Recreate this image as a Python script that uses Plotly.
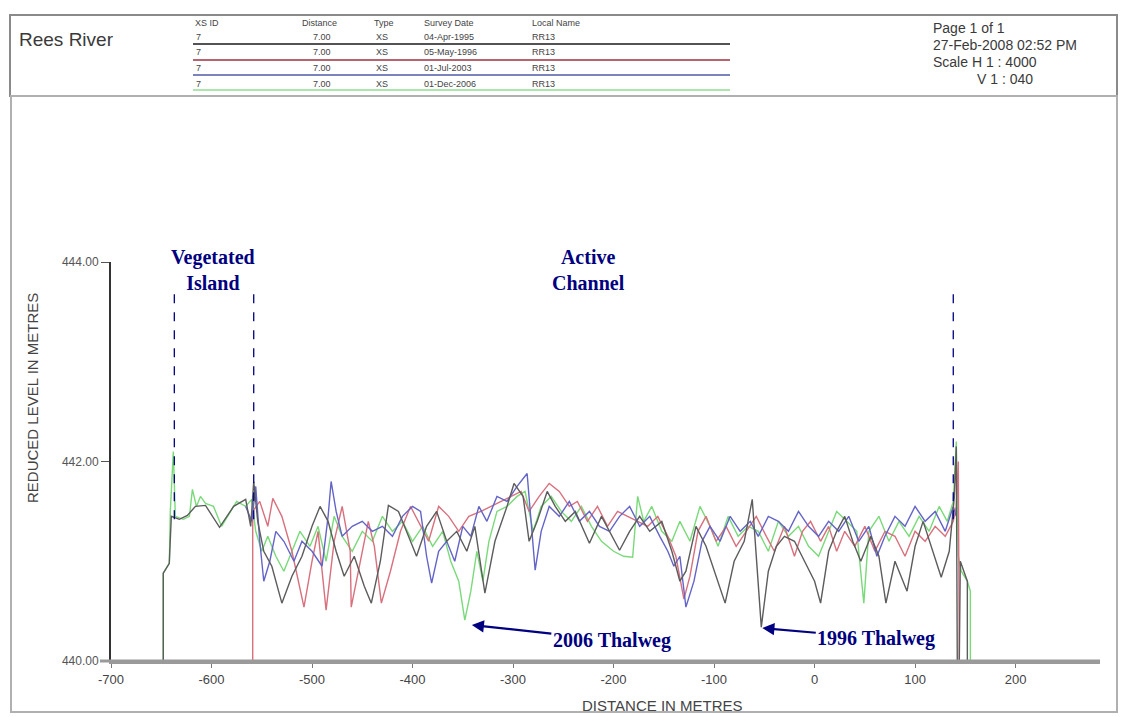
import plotly.graph_objects as go

# ---------------- data ----------------
survey_dates = ["04-Apr-1995", "05-May-1996", "01-Jul-2003", "01-Dec-2006"]
xs_ids = ["7", "7", "7", "7"]
distances = ["7.00", "7.00", "7.00", "7.00"]
xs_types = ["XS", "XS", "XS", "XS"]
local_names = ["RR13", "RR13", "RR13", "RR13"]

x_1995 = [-648, -648, -642, -640, -632, -624, -616, -606, -592, -578, -566, -561, -558, -554, -548, -540,
          -530, -520, -510, -500, -492, -484, -476, -468, -458, -448, -441, -432, -424, -414, -404, -396,
          -386, -376, -366, -356, -346, -338, -328, -318, -306, -299, -290, -284, -276, -266, -258, -248,
          -238, -224, -212, -204, -194, -184, -174, -164, -152, -142, -134, -128, -118, -108, -98, -89,
          -80, -70, -62, -58, -53, -46, -38, -30, -20, -10, 0, 6, 14, 22, 30, 38, 46, 56, 64, 71, 80, 92,
          100, 108, 118, 126, 134, 139, 141, 142, 144, 145, 152, 152]
y_1995 = [440.00, 440.88, 440.98, 441.45, 441.42, 441.46, 441.55, 441.56, 441.34, 441.55, 441.62, 441.35,
          441.80, 441.40, 441.10, 440.95, 440.58, 440.85, 441.05, 441.35, 441.55, 441.40, 441.10, 440.85,
          441.05, 440.75, 440.58, 441.00, 441.56, 441.50, 441.25, 441.05, 441.35, 441.50, 441.20, 441.30,
          441.10, 441.35, 440.68, 441.20, 441.55, 441.78, 441.65, 441.20, 441.40, 441.70, 441.55, 441.40,
          441.50, 441.18, 441.45, 441.30, 441.11, 441.30, 441.45, 441.30, 441.40, 441.10, 440.80, 440.90,
          441.35, 441.15, 440.85, 440.58, 441.00, 441.20, 441.62, 441.00, 440.34, 440.90, 441.15, 441.25,
          441.20, 441.00, 440.80, 440.58, 441.10, 441.30, 441.45, 441.20, 441.00, 441.25, 441.05, 440.58,
          441.00, 440.70, 441.15, 441.40, 441.10, 440.84, 441.10, 441.64, 442.15, 440.00, 440.00, 441.00,
          440.80, 440.00]

x_1996 = [-559, -559, -552, -544, -539, -530, -520, -508, -500, -494, -486, -478, -470, -462, -461, -452,
          -444, -438, -431, -422, -412, -402, -394, -384, -374, -364, -354, -344, -332, -322, -312, -302,
          -292, -284, -274, -264, -254, -244, -236, -226, -216, -206, -196, -186, -176, -166, -156, -146,
          -138, -130, -124, -116, -108, -98, -88, -78, -68, -58, -48, -40, -30, -20, -12, -4, 6, 14, 22,
          30, 40, 50, 60, 70, 80, 90, 100, 110, 120, 130, 138, 141, 143, 144]
y_1996 = [440.00, 441.50, 441.60, 441.35, 441.63, 441.45, 441.10, 440.54, 441.00, 441.30, 440.51, 441.20,
          441.55, 441.10, 440.54, 441.00, 441.40, 441.15, 440.58, 440.90, 441.30, 441.55, 441.40, 441.20,
          441.55, 441.45, 441.30, 441.45, 441.50, 441.55, 441.60, 441.65, 441.70, 441.50, 441.65, 441.78,
          441.70, 441.55, 441.60, 441.40, 441.55, 441.35, 441.50, 441.45, 441.40, 441.35, 441.45, 441.25,
          441.05, 440.62, 440.85, 441.30, 441.45, 441.20, 441.35, 441.15, 441.30, 441.45, 441.25, 441.10,
          441.35, 441.05, 441.30, 441.40, 441.20, 441.35, 441.10, 441.30, 441.15, 441.35, 441.10, 441.30,
          441.25, 441.05, 441.30, 441.20, 441.35, 441.25, 441.40, 441.55, 442.00, 440.00]

x_2003 = [-566, -560, -556, -552, -548, -542, -536, -528, -518, -510, -500, -490, -484, -481, -476, -470,
          -460, -450, -440, -430, -420, -410, -400, -392, -386, -381, -374, -366, -358, -350, -342, -334,
          -326, -316, -306, -296, -286, -282, -278, -272, -264, -254, -244, -234, -224, -214, -204, -194,
          -184, -174, -164, -154, -146, -140, -134, -128, -120, -112, -104, -94, -84, -74, -64, -56, -46,
          -36, -26, -16, -6, 4, 14, 24, 34, 44, 54, 62, 70, 80, 90, 100, 110, 120, 130, 138, 141]
y_2003 = [441.55, 441.40, 441.75, 441.20, 440.80, 441.00, 441.30, 441.20, 441.00, 441.20, 441.10, 440.95,
          441.45, 441.80, 441.50, 441.25, 441.35, 441.40, 441.30, 441.35, 441.25, 441.45, 441.55, 441.50,
          441.05, 440.78, 441.10, 441.20, 441.00, 441.35, 441.25, 441.55, 441.40, 441.65, 441.60, 441.75,
          441.88, 441.40, 440.91, 441.30, 441.55, 441.45, 441.60, 441.40, 441.50, 441.35, 441.30, 441.45,
          441.55, 441.35, 441.45, 441.25, 441.10, 440.95, 441.05, 440.54, 440.80, 441.20, 441.35, 441.20,
          441.45, 441.30, 441.40, 441.25, 441.45, 441.40, 441.30, 441.50, 441.35, 441.25, 441.40, 441.30,
          441.45, 441.20, 441.35, 441.05, 441.25, 441.45, 441.35, 441.55, 441.40, 441.50, 441.30, 441.55,
          441.45]

x_2006 = [-648, -648, -642, -641, -638, -636, -628, -622, -619, -615, -611, -606, -598, -590, -575, -566,
          -560, -556, -550, -544, -536, -528, -520, -512, -502, -494, -486, -478, -470, -460, -450, -440,
          -430, -420, -410, -400, -390, -380, -370, -362, -354, -348, -342, -336, -330, -324, -316, -306,
          -296, -288, -280, -272, -262, -252, -242, -232, -222, -212, -200, -190, -181, -176, -170, -162,
          -152, -142, -134, -124, -114, -104, -96, -86, -76, -66, -56, -46, -36, -26, -16, -6, 4, 14, 22,
          32, 42, 49, 54, 64, 74, 84, 94, 104, 114, 124, 132, 138, 141, 143, 146, 152, 155, 155]
y_2006 = [440.00, 440.88, 440.98, 441.50, 442.10, 441.45, 441.42, 441.45, 441.72, 441.55, 441.65, 441.58,
          441.55, 441.35, 441.60, 441.55, 441.62, 441.30, 441.10, 441.25, 441.05, 440.90, 441.10, 441.30,
          441.15, 441.35, 441.00, 441.45, 441.25, 441.10, 441.30, 441.20, 441.45, 441.30, 441.40, 441.20,
          441.35, 441.15, 441.30, 441.00, 440.80, 440.41, 440.70, 441.10, 440.80, 441.20, 441.50, 441.55,
          441.65, 441.70, 441.30, 441.55, 441.65, 441.50, 441.40, 441.55, 441.35, 441.20, 441.10, 441.05,
          441.04, 441.65, 441.40, 441.55, 441.30, 441.20, 441.40, 441.20, 441.55, 441.35, 441.15, 441.45,
          441.25, 441.35, 441.30, 441.10, 441.40, 441.25, 441.35, 441.15, 441.05, 441.30, 441.50, 441.40,
          441.30, 440.58, 441.30, 441.45, 441.20, 441.40, 441.25, 441.45, 441.30, 441.55, 441.40, 441.60,
          442.20, 441.05, 440.90, 440.80, 440.70, 440.00]

x_ticks = [-700, -600, -500, -400, -300, -200, -100, 0, 100, 200]
y_ticks = [440, 442, 444]

# ---------------- layout helpers ----------------
W, H = 1121, 717
L, R, T, B = 111, 1100, 262, 661


def px(xp):
    return (xp - L) / (R - L)


def py(yp):
    return (B - yp) / (B - T)


plot_colors = ["#5c5c5c", "#d8707e", "#6464c8", "#7ada7a"]
legend_colors = ["#1a1a1a", "#a0303f", "#4f5aa8", "#93dc93"]

fig = go.Figure()
series = [(x_2006, y_2006, 3), (x_1996, y_1996, 1), (x_2003, y_2003, 2), (x_1995, y_1995, 0)]
for xs, ys, ci in series:
    fig.add_trace(go.Scatter(x=xs, y=ys, mode="lines", name=survey_dates[ci],
                             line=dict(color=plot_colors[ci], width=1.4), showlegend=False))

shapes = []
# frames
shapes.append(dict(type="rect", xref="paper", yref="paper", x0=px(10), x1=px(1117), y0=py(15), y1=py(96),
                   line=dict(color="#8a8a8a", width=2)))
shapes.append(dict(type="rect", xref="paper", yref="paper", x0=px(11), x1=px(1117), y0=py(96), y1=py(712),
                   line=dict(color="#b0b0b0", width=2)))
# x axis line extension
shapes.append(dict(type="line", xref="paper", yref="paper", x0=px(100), x1=1, y0=0, y1=0,
                   line=dict(color="#9a9a9a", width=3)))
# dashed boundary lines
for xd in [-637, -558, 138]:
    shapes.append(dict(type="line", xref="x", yref="y", x0=xd, x1=xd, y0=441.42, y1=443.71,
                       line=dict(color="#000080", width=1.3, dash="dash")))
# legend rows lines
row_text_y = [37, 52, 68, 84]
row_line_y = [44, 60, 75, 90]
for i in range(4):
    shapes.append(dict(type="line", xref="paper", yref="paper", x0=px(193), x1=px(730),
                       y0=py(row_line_y[i]), y1=py(row_line_y[i]),
                       line=dict(color=legend_colors[i], width=1.5)))

ann = []


def txt(text, x, y, size, color="#444", anchor="left", family="Arial, Liberation Sans, sans-serif", **kw):
    ann.append(dict(text=text, x=px(x), y=py(y), xref="paper", yref="paper", showarrow=False,
                    xanchor=anchor, yanchor="middle", font=dict(size=size, color=color, family=family), **kw))


txt("Rees River", 17, 40, 19, "#3a3a3a")
hdr_y = 23
txt("XS ID", 193, hdr_y, 9)
txt("Distance", 300, hdr_y, 9)
txt("Type", 372, hdr_y, 9)
txt("Survey Date", 422, hdr_y, 9)
txt("Local Name", 530, hdr_y, 9)
for i in range(4):
    ty = row_text_y[i]
    txt(xs_ids[i], 194, ty, 9)
    txt(distances[i], 333, ty, 9, anchor="right")
    txt(xs_types[i], 374, ty, 9)
    txt(survey_dates[i], 422, ty, 9)
    txt(local_names[i], 530, ty, 9)

txt("Page 1 of 1", 931, 28, 14, "#3a3a3a")
txt("27-Feb-2008 02:52 PM", 931, 45, 14, "#3a3a3a")
txt("Scale H 1 : 4000", 931, 62, 14, "#3a3a3a")
txt("V 1 : 040", 975, 79, 14, "#3a3a3a")

serif = "Liberation Serif, Times New Roman, serif"
txt("<b>Vegetated<br>Island</b>", 213, 270, 20, "#000080", anchor="center", family=serif)
txt("<b>Active<br>Channel</b>", 588, 270, 20, "#000080", anchor="center", family=serif)

txt("DISTANCE IN METRES", 662, 705, 15, "#444", anchor="center")
ann.append(dict(text="REDUCED LEVEL IN METRES", x=px(32), y=py(398), xref="paper", yref="paper",
                showarrow=False, textangle=-90, xanchor="center", yanchor="middle",
                font=dict(size=15, color="#444", family="Arial, Liberation Sans, sans-serif")))

# thalweg arrows
ann.append(dict(text="<b>2006 Thalweg</b>", x=-341, y=440.36, xref="x", yref="y", ax=140, ay=15,
                showarrow=True, arrowhead=2, arrowsize=1.1, arrowwidth=2.2, arrowcolor="#000080",
                font=dict(size=20, color="#000080", family=serif)))
ann.append(dict(text="<b>1996 Thalweg</b>", x=-52, y=440.33, xref="x", yref="y", ax=114, ay=10,
                showarrow=True, arrowhead=2, arrowsize=1.1, arrowwidth=2.2, arrowcolor="#000080",
                font=dict(size=20, color="#000080", family=serif)))

fig.update_layout(
    width=W, height=H,
    margin=dict(l=L, r=W - R, t=T, b=H - B, pad=0),
    paper_bgcolor="white", plot_bgcolor="white",
    shapes=shapes, annotations=ann,
    showlegend=False,
    xaxis=dict(range=[-700, -700 + (R - L) / 1.0051], tickvals=x_ticks, ticktext=[str(v) for v in x_ticks],
               showgrid=False, zeroline=False, showline=True, linecolor="#9a9a9a", linewidth=3,
               ticks="outside", ticklen=4, tickcolor="#777", tickwidth=1,
               tickfont=dict(size=13, color="#444", family="Arial, Liberation Sans, sans-serif")),
    yaxis=dict(range=[440, 444], tickvals=y_ticks, ticktext=["%.2f" % v for v in y_ticks],
               showgrid=False, zeroline=False, showline=True, linecolor="#333", linewidth=2,
               ticks="outside", ticklen=8, tickcolor="#555", tickwidth=1,
               tickfont=dict(size=12, color="#555", family="Arial, Liberation Sans, sans-serif")),
)

fig.write_html("out.html")
